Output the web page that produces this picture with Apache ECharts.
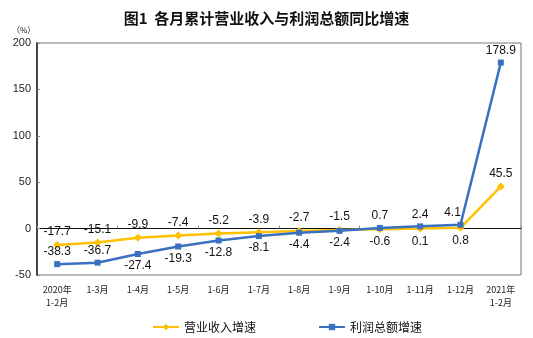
<!DOCTYPE html>
<html><head><meta charset="utf-8">
<script src="https://cdn.jsdelivr.net/npm/echarts@6/dist/echarts.min.js"></script>
<style>html,body{margin:0;padding:0;background:#fff}#c{width:533px;height:338px}</style>
</head><body><div id="c"></div>
<script>
const categories = ['2020年\n1-2月','1-3月','1-4月','1-5月','1-6月','1-7月','1-8月','1-9月','1-10月','1-11月','1-12月','2021年\n1-2月'];
const revenueGrowth = [-17.7,-15.1,-9.9,-7.4,-5.2,-3.9,-2.7,-1.5,-0.6,0.1,0.8,45.5];
const profitGrowth = [-38.3,-36.7,-27.4,-19.3,-12.8,-8.1,-4.4,-2.4,0.7,2.4,4.1,178.9];
const seriesNames = ['营业收入增速','利润总额增速'];
const yTicks = {min:-50, max:200, interval:50};

const labelFont = {fontFamily:'Liberation Sans', fontSize:12, color:'#111'};
function build(vals, other){
  return vals.map((v,i)=>{
    const above = v >= other[i] || other[i] - v > 20;
    const next = vals[i+1];
    const steep = above && next !== undefined && next - v > 30;
    return {value:v, label:{position: above ? 'top' : 'bottom', distance:3, offset: steep ? [-8,0] : [0,0]}};
  });
}
const chart = echarts.init(document.getElementById('c'));
chart.setOption({
  animation:false,
  title:{text:'图1  各月累计营业收入与利润总额同比增速', left:'center', top:6,
    textStyle:{fontFamily:'Noto Sans CJK SC', fontSize:15, fontWeight:'bold', color:'#111'}},
  graphic:[{type:'text', left:12, top:26, style:{text:'（%）', font:'8px "Noto Sans CJK SC"', fill:'#222'}}],
  grid:{left:37, right:12, top:43, bottom:63, show:true, borderColor:'#777', borderWidth:1},
  legend:{left:147, top:316, itemGap:62, itemWidth:26, itemHeight:8,
    textStyle:{fontFamily:'Noto Sans CJK SC', fontSize:12, color:'#111'}},
  xAxis:[
    {type:'category', data:categories, position:'bottom',
      axisLine:{show:false, onZero:false}, axisTick:{show:false},
      axisLabel:{fontFamily:'Noto Sans CJK SC', fontSize:9, color:'#222', margin:8, lineHeight:13, interval:0}},
    {type:'category', data:categories, position:'top',
      axisLine:{show:true, onZero:true, lineStyle:{color:'#111', width:1}},
      axisTick:{show:true, inside:false, length:3, lineStyle:{color:'#888'}},
      axisLabel:{show:false}}
  ],
  yAxis:{type:'value', min:yTicks.min, max:yTicks.max, interval:yTicks.interval,
    axisLine:{show:true, lineStyle:{color:'#444', width:2}},
    axisTick:{show:true, inside:true, length:3, lineStyle:{color:'#888'}},
    splitLine:{show:false},
    axisLabel:{fontFamily:'Liberation Sans Narrow, Liberation Sans', fontSize:11, color:'#222', margin:6}},
  series:[
    {name:seriesNames[0], type:'line', data:build(revenueGrowth, profitGrowth),
      symbol:'diamond', symbolSize:8, color:'#FFC000',
      lineStyle:{width:2.5, color:'#FFC000'}, itemStyle:{color:'#FFC000'},
      label:Object.assign({show:true}, labelFont), z:2},
    {name:seriesNames[1], type:'line', data:build(profitGrowth, revenueGrowth),
      symbol:'rect', symbolSize:6, color:'#3A70C0',
      lineStyle:{width:2.5, color:'#3A70C0'}, itemStyle:{color:'#3A70C0'},
      label:Object.assign({show:true}, labelFont), z:3}
  ]
});
</script></body></html>
